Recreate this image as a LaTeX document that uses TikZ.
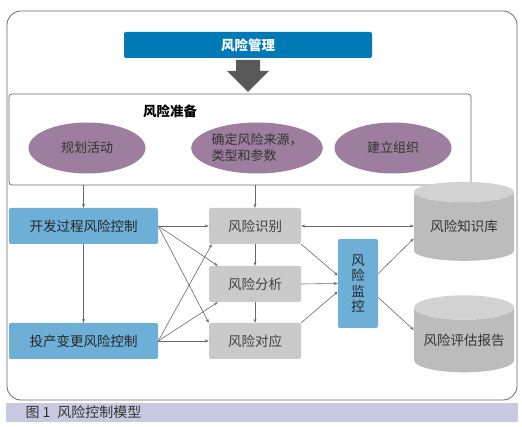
\documentclass[tikz,border=0pt]{standalone}
\usepackage{fontspec}
\setmainfont{Noto Sans CJK SC}
\usetikzlibrary{positioning,calc,shapes.geometric,arrows.meta}
\definecolor{mgmtblue}{RGB}{0,122,182}
\definecolor{ctrlblue}{RGB}{110,175,215}
\definecolor{stepgray}{RGB}{202,202,202}
\definecolor{riskpurple}{RGB}{158,126,158}
\definecolor{linegray}{RGB}{105,105,105}
\definecolor{capband}{RGB}{200,200,224}
\definecolor{cylbody}{RGB}{188,188,188}
\definecolor{cyltop}{RGB}{210,210,210}

\begin{document}
\begin{tikzpicture}[x=1pt,y=-1pt,
		every node/.style={font=\fontsize{13.5}{15}\selectfont},
		mgmt/.style={rectangle,rounded corners=2pt,fill=mgmtblue,text=white,minimum width=248,minimum height=26,font=\fontsize{13.5}{15}\selectfont\bfseries},
		prepbox/.style={rectangle,rounded corners=3pt,draw=linegray,line width=0.7pt,minimum width=462,minimum height=91},
		riskellipse/.style={ellipse,fill=riskpurple,text=black!80,minimum width=117,minimum height=51,inner sep=1pt,font=\fontsize{13}{16}\selectfont},
		ctrlbox/.style={rectangle,rounded corners=2pt,fill=ctrlblue,text=black!85,minimum width=149,minimum height=36},
		stepbox/.style={rectangle,rounded corners=2pt,fill=stepgray,text=black!75,minimum width=92,minimum height=36},
		monbox/.style={rectangle,rounded corners=2pt,fill=ctrlblue,text=black!85,minimum width=40,minimum height=89,align=center,font=\fontsize{13.5}{15.5}\selectfont},
		store/.style={cylinder,shape border rotate=90,aspect=0.3,cylinder uses custom fill,cylinder body fill=cylbody,cylinder end fill=cyltop,minimum width=100,text=black!80,inner sep=0pt},
		flow/.style={-{Stealth[length=4pt,width=3pt]},draw=linegray,line width=0.6pt}]
		
		\useasboundingbox (0,0) rectangle (522,427);
		\draw[linegray,line width=0.8pt,rounded corners=14pt] (7,11) rectangle (517,400);
		\fill[capband] (6,403) rectangle (518,422);
		\node[anchor=west,text=black!80,font=\fontsize{14}{15}\selectfont] (cap) at (22,412.5) {图 1\hspace{7pt}风险控制模型};
		
		\node[mgmt] (mgmt) at (248,45) {风险管理};
		\fill[black!65] (236,60) -- (260,60) -- (260,71) -- (269,71) -- (248,92) -- (227,71) -- (236,71) -- cycle;
		
		\node[prepbox] (prep) at (240,139.5) {};
		\node[font=\fontsize{13.5}{15}\selectfont\bfseries] (preptitle) at (170,111) {风险准备};
		\node[riskellipse] (plan) at (87,148) {规划活动};
		\node[riskellipse,align=left] (src) at (257,148) {确定风险来源，\\类型和参数};
		\node[riskellipse] (org) at (393,148) {建立组织};
		
		\node[ctrlbox] (dev) at (83.5,226) {开发过程风险控制};
		\node[ctrlbox] (chg) at (83.5,341) {投产变更风险控制};
		\node[stepbox] (ident) at (255,226) {风险识别};
		\node[stepbox] (anal) at (255,284) {风险分析};
		\node[stepbox] (resp) at (255,341) {风险对应};
		\node[monbox] (mon) at (358,283.5) {风\\险\\监\\控};
		\node[store,minimum height=79] (kb) at (464,226.5) {风险知识库};
		\node[store,minimum height=77] (rep) at (464,340) {风险评估报告};
		
		\draw[flow] (dev.north |- prep.south) -- (dev.north);
		\draw[flow] (ident.north |- prep.south) -- (ident.north);
		\draw[flow] (dev) -- (chg);
		\draw[flow] (ident) -- (anal);
		\draw[flow] (anal) -- (resp);
		\draw[flow] (dev.east) -- (ident.west);
		\draw[flow] (dev.east) -- ([xshift=9pt]anal.north west);
		\draw[flow] (dev.east) -- (resp.north west);
		\draw[flow] (chg.east) -- (resp.west);
		\draw[flow] (chg.east) -- ([xshift=9pt]anal.south west);
		\draw[flow] (chg.east) -- ([xshift=3pt]ident.south west);
		\draw[flow,{Stealth[length=4pt,width=3pt]}-{Stealth[length=4pt,width=3pt]}] (ident.east) -- (ident.east -| kb.west);
		\draw[flow] (ident.south east) -- ([yshift=8pt]mon.west);
		\draw[flow] (anal.east) -- (mon.west);
		\draw[flow] (resp.north east) -- ([yshift=-8pt]mon.west);
		\draw[flow] ([yshift=10pt]mon.east) -- ([yshift=-12pt]kb.west);
		\draw[flow] ([yshift=-14pt]mon.east) -- ([yshift=10pt]rep.west);
\end{tikzpicture}
\end{document}
